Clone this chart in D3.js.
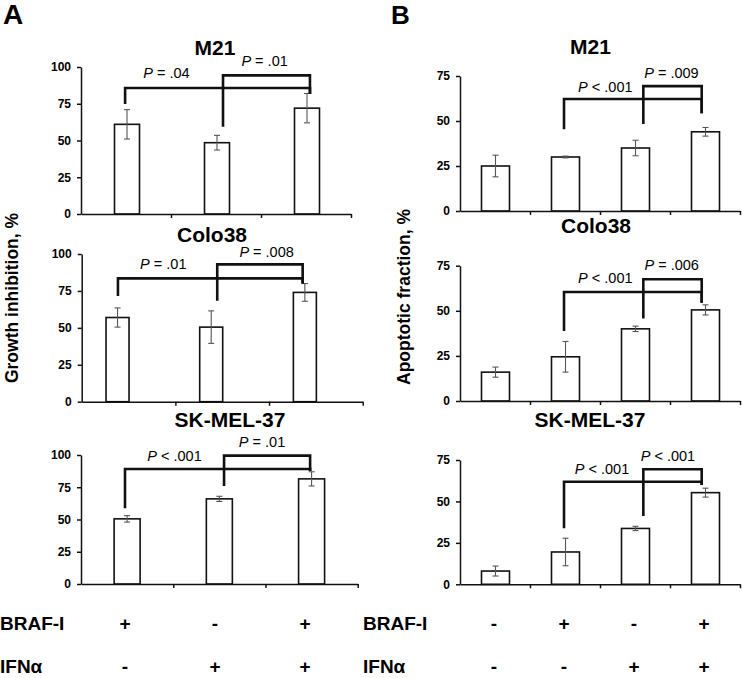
<!DOCTYPE html>
<html><head><meta charset="utf-8">
<script src="https://cdn.jsdelivr.net/npm/d3@7"></script>
<style>
body{margin:0;background:#fff}
svg{display:block}
text{font-family:"Liberation Sans",Arial,Helvetica,sans-serif;fill:#000}
</style>
</head><body>
<svg id="chart" width="742" height="678"></svg>
<script>
// ---------- DATA ----------
const conditionsA = ["BRAF-I", "IFNα", "BRAF-I + IFNα"];
const conditionsB = ["Control", "BRAF-I", "IFNα", "BRAF-I + IFNα"];
const brafSignsA = ["+", "-", "+"];
const ifnSignsA  = ["-", "+", "+"];
const brafSignsB = ["-", "+", "-", "+"];
const ifnSignsB  = ["-", "-", "+", "+"];
const cellLines = ["M21", "Colo38", "SK-MEL-37"];
const growthTicks = [0, 25, 50, 75, 100];
const apoptosisTicks = [0, 25, 50, 75];

const growthM21       = [61, 48.5, 72];
const growthM21Err    = [10, 5, 10];
const growthColo38    = [57, 50.5, 74];
const growthColo38Err = [6.5, 11, 6];
const growthSK        = [50.5, 66, 81.5];
const growthSKErr     = [2.5, 2, 5.5];

const apopM21       = [25, 30, 35, 44];
const apopM21Err    = [6, 0.5, 4.3, 2.4];
const apopColo38    = [16, 24.5, 40, 50.5];
const apopColo38Err = [2.8, 8.5, 1.5, 2.8];
const apopSK        = [8, 19.5, 33.7, 55.3];
const apopSKErr     = [3, 8.3, 1.3, 2.7];

// P values: [long bracket, short bracket]
const pGrowthM21    = [["=", ".04"], ["=", ".01"]];
const pGrowthColo38 = [["=", ".01"], ["=", ".008"]];
const pGrowthSK     = [["<", ".001"], ["=", ".01"]];
const pApopM21      = [["<", ".001"], ["=", ".009"]];
const pApopColo38   = [["<", ".001"], ["=", ".006"]];
const pApopSK       = [["<", ".001"], ["<", ".001"]];

// ---------- LAYOUT ----------
const svg = d3.select("#chart");

const panels = [
  {cats: conditionsA, vals: growthM21, errs: growthM21Err, ticks: growthTicks, max: 100, title: cellLines[0], p: pGrowthM21,
   x0: 81, x1: 351, yTop: 67, yBot: 214, shift: 1, barW: 25, tx: 215, ty: 55,
   br: [{a: 0.49, b: 2.544, top: 85.7, la: 74.8, lb: 81.6, tu: 0.95, tv: 92.3},
        {a: 1.578, b: 2.544, top: 94.3, la: 59.4, lb: 81.6, tu: 2.04, tv: 100.7}]},
  {cats: conditionsA, vals: growthColo38, errs: growthColo38Err, ticks: growthTicks, max: 100, title: cellLines[1], p: pGrowthColo38,
   x0: 81.7, x1: 362.7, yTop: 254, yBot: 401.7, shift: -11, barW: 23, tx: 212, ty: 241.7,
   br: [{a: 0.387, b: 2.359, top: 83.5, la: 71.5, lb: 80, tu: 0.871, tv: 89.6},
        {a: 1.447, b: 2.359, top: 93, la: 68.4, lb: 80, tu: 1.974, tv: 98.2}]},
  {cats: conditionsA, vals: growthSK, errs: growthSKErr, ticks: growthTicks, max: 100, title: cellLines[2], p: pGrowthSK,
   x0: 81, x1: 357.7, yTop: 455, yBot: 584, shift: 0, barW: 26, tx: 230, ty: 427.3,
   br: [{a: 0.477, b: 2.484, top: 89.1, la: 58.7, lb: 87.6, tu: 1.014, tv: 95.6},
        {a: 1.551, b: 2.484, top: 99.5, la: 76, lb: 87.6, tu: 1.963, tv: 106}]},
  {cats: conditionsB, vals: apopM21, errs: apopM21Err, ticks: apoptosisTicks, max: 75, title: cellLines[0], p: pApopM21,
   x0: 460, x1: 740, yTop: 76, yBot: 211, shift: 0.5, barW: 28, tx: 590.5, ty: 54.3,
   br: [{a: 1.486, b: 3.453, top: 62.2, la: 45.4, lb: 54.3, tu: 2.076, tv: 66.3},
        {a: 2.619, b: 3.453, top: 69.4, la: 48.3, lb: 54.3, tu: 3.021, tv: 73.7}]},
  {cats: conditionsB, vals: apopColo38, errs: apopColo38Err, ticks: apoptosisTicks, max: 75, title: cellLines[1], p: pApopColo38,
   x0: 460, x1: 740, yTop: 265.7, yBot: 401, shift: 0.5, barW: 28, tx: 596, ty: 233.3,
   br: [{a: 1.486, b: 3.453, top: 60.4, la: 38.8, lb: 54.5, tu: 2.076, tv: 65.2},
        {a: 2.619, b: 3.453, top: 67.5, la: 45.8, lb: 54.5, tu: 3.024, tv: 72.6}]},
  {cats: conditionsB, vals: apopSK, errs: apopSKErr, ticks: apoptosisTicks, max: 75, title: cellLines[2], p: pApopSK,
   x0: 460, x1: 740, yTop: 460, yBot: 584.3, shift: 0.5, barW: 28, tx: 590, ty: 426.7,
   br: [{a: 1.486, b: 3.453, top: 61.9, la: 33.8, lb: 59.9, tu: 2.029, tv: 66.5},
        {a: 2.619, b: 3.453, top: 69.4, la: 41.2, lb: 59.9, tu: 2.971, tv: 74.5}]}
];

function drawPanel(c) {
  const g = svg.append("g");
  const band = d3.scaleBand().domain(c.cats).range([c.x0, c.x1]);
  const u = d3.scaleLinear().domain([0, c.cats.length]).range([c.x0, c.x1]);
  const y = d3.scaleLinear().domain([0, c.max]).range([c.yBot, c.yTop]);
  const cx = cat => band(cat) + band.bandwidth() / 2 + c.shift;

  // title
  g.append("text").attr("x", c.tx).attr("y", c.ty).attr("text-anchor", "middle")
    .style("font-size", "21px").style("font-weight", "bold").text(c.title);

  // bars
  g.selectAll("rect.bar").data(c.vals).join("rect")
    .attr("class", "bar")
    .attr("x", (d, i) => cx(c.cats[i]) - c.barW / 2)
    .attr("y", d => y(d))
    .attr("width", c.barW)
    .attr("height", d => y(0) - y(d))
    .attr("fill", "#fff").attr("stroke", "#111").attr("stroke-width", 1.6);

  // error bars
  const eg = g.append("g").attr("stroke", "#555").attr("stroke-width", 1.1).attr("fill", "none");
  c.vals.forEach((v, i) => {
    const x = cx(c.cats[i]), e = c.errs[i];
    eg.append("line").attr("x1", x).attr("x2", x).attr("y1", y(v + e)).attr("y2", y(v - e));
    eg.append("line").attr("x1", x - 3).attr("x2", x + 3).attr("y1", y(v + e)).attr("y2", y(v + e));
    eg.append("line").attr("x1", x - 3).attr("x2", x + 3).attr("y1", y(v - e)).attr("y2", y(v - e));
  });

  // y axis
  const ya = g.append("g").attr("transform", `translate(${c.x0},0)`)
    .call(d3.axisLeft(y).tickValues(c.ticks).tickSize(4).tickSizeOuter(0).tickPadding(6));
  ya.selectAll("text").style("font-size", "12px").style("font-weight", "bold")
    .style("font-family", '"Liberation Sans",Arial,sans-serif').attr("fill", "#111");
  ya.selectAll("line, path").attr("stroke", "#111").attr("stroke-width", 1.5);

  // x axis
  const xa = g.append("g").attr("transform", `translate(0,${c.yBot})`)
    .call(d3.axisBottom(u).tickValues(d3.range(1, c.cats.length + 1)).tickFormat("").tickSize(4).tickSizeOuter(0));
  xa.selectAll("line, path").attr("stroke", "#111").attr("stroke-width", 1.5);

  // brackets
  c.br.forEach((b, i) => {
    const path = d3.path();
    path.moveTo(u(b.a), y(b.la));
    path.lineTo(u(b.a), y(b.top));
    path.lineTo(u(b.b), y(b.top));
    path.lineTo(u(b.b), y(b.lb));
    g.append("path").attr("d", path.toString()).attr("fill", "none")
      .attr("stroke", "#111").attr("stroke-width", 2.6);
    const t = g.append("text").attr("x", u(b.tu)).attr("y", y(b.tv)).attr("text-anchor", "middle")
      .style("font-size", "14.5px");
    t.append("tspan").style("font-style", "italic").text("P");
    t.append("tspan").text(" " + c.p[i][0] + " " + c.p[i][1]);
  });
}
panels.forEach(drawPanel);

// panel letters
svg.append("text").attr("x", 3).attr("y", 24).style("font-size", "28px").style("font-weight", "bold").text("A");
svg.append("text").attr("x", 391).attr("y", 24).style("font-size", "26px").style("font-weight", "bold").text("B");

// y axis titles
svg.append("text").attr("transform", "translate(18,298) rotate(-90)").attr("text-anchor", "middle")
  .style("font-size", "17.5px").style("font-weight", "bold").text("Growth inhibition, %");
svg.append("text").attr("transform", "translate(410,297) rotate(-90)").attr("text-anchor", "middle")
  .style("font-size", "17.5px").style("font-weight", "bold").text("Apoptotic fraction, %");

// treatment table
const signA = d3.scaleBand().domain(conditionsA).range([81, 351]);
const signB = d3.scaleBand().domain(conditionsB).range([460, 740]);
const rows = [
  {label: "BRAF-I", y: 630, a: brafSignsA, b: brafSignsB},
  {label: "IFNα", y: 673, a: ifnSignsA, b: ifnSignsB}
];
rows.forEach(r => {
  svg.append("text").attr("x", 0).attr("y", r.y).style("font-size", "19px").style("font-weight", "bold").text(r.label);
  svg.append("text").attr("x", 363).attr("y", r.y).style("font-size", "19px").style("font-weight", "bold").text(r.label);
  r.a.forEach((s, i) => svg.append("text").attr("x", signA(conditionsA[i]) + signA.bandwidth() / 2 - 1).attr("y", r.y)
    .attr("text-anchor", "middle").style("font-size", "19px").style("font-weight", "bold").text(s));
  r.b.forEach((s, i) => svg.append("text").attr("x", signB(conditionsB[i]) + signB.bandwidth() / 2 - 1).attr("y", r.y)
    .attr("text-anchor", "middle").style("font-size", "19px").style("font-weight", "bold").text(s));
});
</script>
</body></html>
